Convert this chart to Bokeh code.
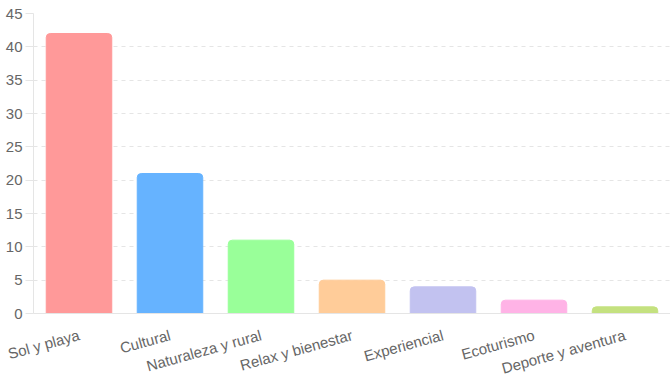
from bokeh.plotting import figure
from bokeh.models import ColumnDataSource, VBar, SingleIntervalTicker, Range1d
from bokeh.embed import file_html
from bokeh.resources import INLINE

categories = ["Sol y playa", "Cultural", "Naturaleza y rural", "Relax y bienestar",
              "Experiencial", "Ecoturismo", "Deporte y aventura"]
values = [42, 21, 11, 5, 4, 2, 1]
colors = ["#FF9999", "#66B3FF", "#99FF99", "#FFCC99", "#C2C2F0", "#FFB3E6", "#C4E17F"]

src = ColumnDataSource(dict(cat=categories, val=values, col=colors))

p = figure(x_range=categories, y_range=Range1d(0, 45), width=670, height=387,
           output_backend="svg", toolbar_location=None,
           min_border_left=33, min_border_right=0, min_border_top=13, min_border_bottom=74)
p.outline_line_color = None

kw = {}
if "border_radius" in VBar.properties():
    kw["border_radius"] = (4, 4, 0, 0)
p.vbar(x="cat", top="val", width=0.72, fill_color="col", line_color="col",
       source=src, **kw)

font = "Liberation Sans"
p.yaxis.ticker = SingleIntervalTicker(interval=5)
p.yaxis.axis_line_color = "#e5e5e5"
p.yaxis.major_tick_line_color = "#e5e5e5"
p.yaxis.major_tick_in = 0
p.yaxis.major_tick_out = 8
p.yaxis.minor_tick_line_color = None
p.yaxis.major_label_text_font = font
p.yaxis.major_label_text_font_size = "15px"
p.yaxis.major_label_text_color = "#666666"
p.yaxis.major_label_standoff = 3

p.xaxis.axis_line_color = "#e5e5e5"
p.xaxis.major_tick_line_color = None
p.xaxis.minor_tick_line_color = None
p.xaxis.major_label_text_font = font
p.xaxis.major_label_text_font_size = "15px"
p.xaxis.major_label_text_color = "#666666"
p.xaxis.major_label_orientation = 0.27
p.xaxis.major_label_standoff = 15

p.xgrid.grid_line_color = None
p.ygrid.grid_line_color = "#e5e5e5"
p.ygrid.grid_line_dash = "4 4"

open("out.html", "w").write(file_html(p, INLINE))
